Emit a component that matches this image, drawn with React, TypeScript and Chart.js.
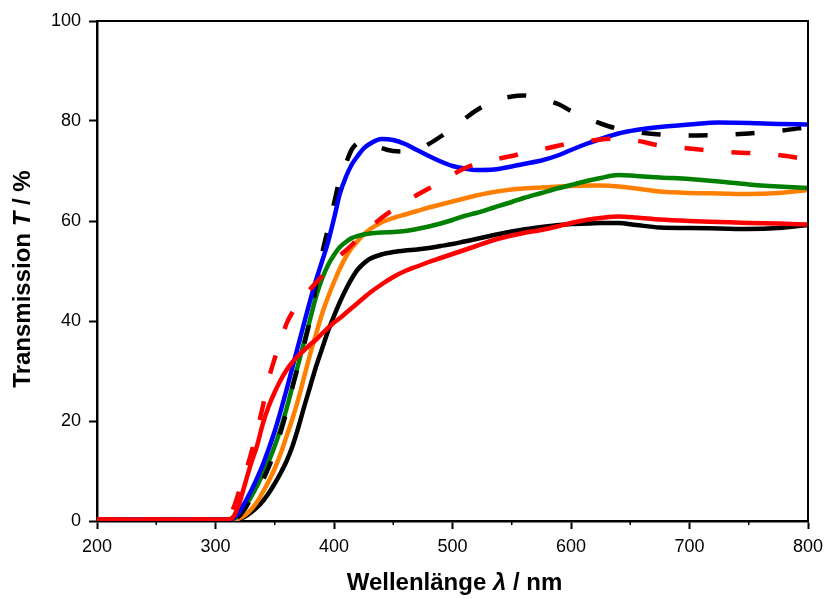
import React, { useEffect, useRef } from "react";
import { Chart, registerables } from "chart.js";

Chart.register(...registerables);

const WAVELENGTH = [200, 250, 300, 310, 315, 320, 325, 330, 335, 340, 345, 350, 355, 360, 365, 370, 375, 380, 385, 390, 395, 400, 405, 410, 415, 420, 425, 430, 440, 450, 460, 470, 480, 490, 500, 510, 520, 535, 550, 560, 575, 590, 600, 615, 625, 640, 655, 675, 700, 725, 750, 775, 800];

const RED_SOLID = [0.3, 0.3, 0.3, 0.3, 0.8, 3.5, 7.5, 11.5, 15, 19.5, 23, 25.8, 28.2, 30.2, 31.8, 33.1, 34.2, 35.3, 36.3, 37.5, 38.6, 39.7, 40.6, 41.6, 42.6, 43.6, 44.6, 45.6, 47.3, 48.8, 50, 50.9, 51.8, 52.6, 53.4, 54.2, 55, 56.2, 57.1, 57.6, 58.2, 59, 59.6, 60.3, 60.6, 60.9, 60.7, 60.3, 60, 59.8, 59.6, 59.5, 59.3];

const BLACK_SOLID = [0.3, 0.3, 0.3, 0.3, 0.3, 0.4, 0.9, 1.7, 2.7, 4, 5.6, 7.5, 9.6, 12, 15, 18.8, 23, 27, 31, 34.5, 38, 41, 43.8, 46.3, 48.5, 50.3, 51.5, 52.4, 53.3, 53.8, 54.1, 54.3, 54.6, 55, 55.4, 55.9, 56.4, 57.2, 57.9, 58.3, 58.8, 59.2, 59.4, 59.5, 59.6, 59.6, 59.2, 58.7, 58.6, 58.5, 58.4, 58.6, 59.2];

const GREEN = [0.3, 0.3, 0.3, 0.3, 0.4, 1.2, 2.8, 4.8, 7, 9.5, 12, 15, 18.5, 22.5, 27, 31.5, 36, 40.5, 45, 48.5, 51.2, 53.2, 54.8, 55.8, 56.6, 57, 57.3, 57.5, 57.7, 57.8, 58, 58.4, 58.9, 59.5, 60.2, 61, 61.6, 62.7, 63.8, 64.6, 65.6, 66.6, 67.2, 68.1, 68.6, 69.2, 69, 68.7, 68.4, 67.9, 67.3, 66.9, 66.6];

const ORANGE = [0.3, 0.3, 0.3, 0.3, 0.3, 0.5, 1.2, 2.3, 3.8, 5.8, 8, 10.5, 13.5, 17, 20.5, 24.5, 29, 33.5, 37.5, 41.5, 44.8, 47.8, 50.5, 52.8, 54.6, 56, 57.3, 58.3, 59.7, 60.6, 61.3, 62, 62.7, 63.3, 63.9, 64.5, 65.1, 65.8, 66.3, 66.5, 66.7, 66.9, 67, 67.1, 67.1, 66.9, 66.5, 65.9, 65.6, 65.5, 65.4, 65.6, 66.2];

const BLUE = [0.3, 0.3, 0.3, 0.3, 0.5, 1.8, 3.8, 6, 8.5, 11.3, 14.5, 18, 22, 26.3, 30.8, 35.3, 39.8, 44.2, 48.3, 52, 55.8, 60.5, 65.5, 68.8, 71.3, 73, 74.5, 75.4, 76.4, 76.2, 75.4, 74.2, 73, 71.9, 71, 70.5, 70.2, 70.3, 70.9, 71.4, 72.1, 73.2, 74.2, 75.6, 76.4, 77.5, 78.2, 78.8, 79.3, 79.7, 79.6, 79.4, 79.3];

const BLACK_DASHED = [0.3, 0.3, 0.3, 0.3, 0.4, 1, 2.5, 4.5, 6.3, 8.2, 10.8, 14, 17.8, 22, 26.8, 31.2, 35.5, 40.5, 47.5, 53.5, 58.5, 63.5, 68.5, 71.5, 74.3, 75.6, 76, 75.7, 74.6, 74, 73.9, 74.3, 75.4, 76.9, 78.6, 80.4, 82.1, 84, 84.9, 85.1, 84.4, 83.3, 82, 80.4, 79.5, 78.4, 77.8, 77.3, 77.1, 77.2, 77.5, 78, 78.8];

const RED_DASHED = [0.3, 0.3, 0.3, 0.5, 2.5, 6, 9.5, 13.5, 18, 23, 28.5, 32.5, 36, 39.5, 41.8, 43.5, 45, 46.4, 47.7, 49, 50.4, 52, 53.1, 54.1, 55.2, 56.5, 57.6, 58.6, 60.6, 62.3, 63.9, 65.2, 66.5, 67.9, 69.3, 70.5, 71.5, 72.3, 73, 73.6, 74.3, 75.1, 75.7, 76, 76.3, 76.5, 76.1, 75.1, 74.5, 73.9, 73.6, 73.2, 72.3];

const X_TICKS = [200, 300, 400, 500, 600, 700, 800];
const X_MINOR_TICKS = [250, 350, 450, 550, 650, 750];
const Y_TICKS = [0, 20, 40, 60, 80, 100];

const FONT_FAMILY = "'Liberation Sans', Arial, sans-serif";

function series(values: number[]) {
  return WAVELENGTH.map((x, i) => ({ x, y: values[i] }));
}

const framePlugin = {
  id: "frameAndTitles",
  afterDraw(chart: any) {
    const { ctx, chartArea } = chart;
    const { left, right, top, bottom } = chartArea;
    const xScale = chart.scales.x;
    ctx.save();
    ctx.strokeStyle = "#000";
    ctx.lineWidth = 2;
    ctx.beginPath();
    ctx.moveTo(left, top);
    ctx.lineTo(right, top);
    ctx.lineTo(right, bottom);
    ctx.stroke();
    // minor ticks
    ctx.lineWidth = 1.5;
    X_MINOR_TICKS.forEach((v) => {
      const px = xScale.getPixelForValue(v);
      ctx.beginPath();
      ctx.moveTo(px, bottom);
      ctx.lineTo(px, bottom + 4);
      ctx.stroke();
    });

    const drawMixed = (parts: { t: string; italic: boolean }[], size: number) => {
      const widths = parts.map((p) => {
        ctx.font = `${p.italic ? "italic " : ""}bold ${size}px ${FONT_FAMILY}`;
        return ctx.measureText(p.t).width;
      });
      const total = widths.reduce((a, b) => a + b, 0);
      let x = -total / 2;
      parts.forEach((p, i) => {
        ctx.font = `${p.italic ? "italic " : ""}bold ${size}px ${FONT_FAMILY}`;
        ctx.fillText(p.t, x, 0);
        x += widths[i];
      });
    };

    ctx.fillStyle = "#000";
    ctx.textBaseline = "middle";
    ctx.textAlign = "left";

    // x title
    ctx.save();
    ctx.translate((left + right) / 2 + 2, 583);
    drawMixed(
      [
        { t: "Wellenlänge ", italic: false },
        { t: "λ", italic: true },
        { t: " / nm", italic: false },
      ],
      24
    );
    ctx.restore();

    // y title
    ctx.save();
    ctx.translate(23, (top + bottom) / 2 + 8);
    ctx.rotate(-Math.PI / 2);
    drawMixed(
      [
        { t: "Transmission ", italic: false },
        { t: "T", italic: true },
        { t: " / %", italic: false },
      ],
      24
    );
    ctx.restore();

    ctx.restore();
  },
};

export default function App() {
  const canvasRef = useRef<HTMLCanvasElement | null>(null);

  useEffect(() => {
    document.body.style.margin = "0";
    const canvas = canvasRef.current;
    if (!canvas) return;

    const mk = (label: string, values: number[], color: string, dashed: boolean) => ({
      label,
      data: series(values),
      borderColor: color,
      backgroundColor: color,
      borderWidth: 4.5,
      borderDash: dashed ? [19, 28] : [],
      borderCapStyle: "butt" as const,
      pointRadius: 0,
      fill: false,
      cubicInterpolationMode: "monotone" as const,
    });

    const chart = new Chart(canvas, {
      type: "line",
      data: {
        datasets: [
          mk("red", RED_SOLID, "#ff0000", false),
          mk("red dashed", RED_DASHED, "#ff0000", true),
          mk("blue", BLUE, "#0000ff", false),
          mk("black dashed", BLACK_DASHED, "#000000", true),
          mk("green", GREEN, "#008000", false),
          mk("orange", ORANGE, "#ff8000", false),
          mk("black", BLACK_SOLID, "#000000", false),
        ],
      },
      options: {
        responsive: false,
        animation: false,
        devicePixelRatio: 1,
        layout: { padding: { left: 0, right: 19, top: 21, bottom: 0 } },
        plugins: {
          legend: { display: false },
          tooltip: { enabled: false },
          title: { display: false },
        },
        scales: {
          x: {
            type: "linear",
            min: 200,
            max: 800,
            afterFit: (scale: any) => {
              scale.height = 77;
              scale.paddingLeft = 0;
              scale.paddingRight = 0;
            },
            afterBuildTicks: (scale: any) => {
              scale.ticks = X_TICKS.map((v) => ({ value: v }));
            },
            ticks: {
              autoSkip: false,
              maxRotation: 0,
              padding: 7,
              color: "#000",
              font: { family: FONT_FAMILY, size: 18 },
            },
            grid: {
              drawOnChartArea: false,
              drawTicks: true,
              tickLength: 8,
              tickColor: "#000",
              tickWidth: 2,
            },
            border: { display: true, color: "#000", width: 2.5 },
          },
          y: {
            type: "linear",
            min: 0,
            max: 100,
            afterFit: (scale: any) => {
              scale.width = 97;
              scale.paddingTop = 0;
              scale.paddingBottom = 0;
            },
            afterBuildTicks: (scale: any) => {
              scale.ticks = Y_TICKS.map((v) => ({ value: v }));
            },
            ticks: {
              autoSkip: false,
              padding: 8,
              color: "#000",
              font: { family: FONT_FAMILY, size: 18 },
            },
            grid: {
              drawOnChartArea: false,
              drawTicks: true,
              tickLength: 8,
              tickColor: "#000",
              tickWidth: 2,
            },
            border: { display: true, color: "#000", width: 2.5 },
          },
        },
      },
      plugins: [framePlugin],
    });

    return () => chart.destroy();
  }, []);

  return (
    <canvas
      ref={canvasRef}
      width={827}
      height={598}
      style={{ display: "block", width: "827px", height: "598px" }}
    />
  );
}
